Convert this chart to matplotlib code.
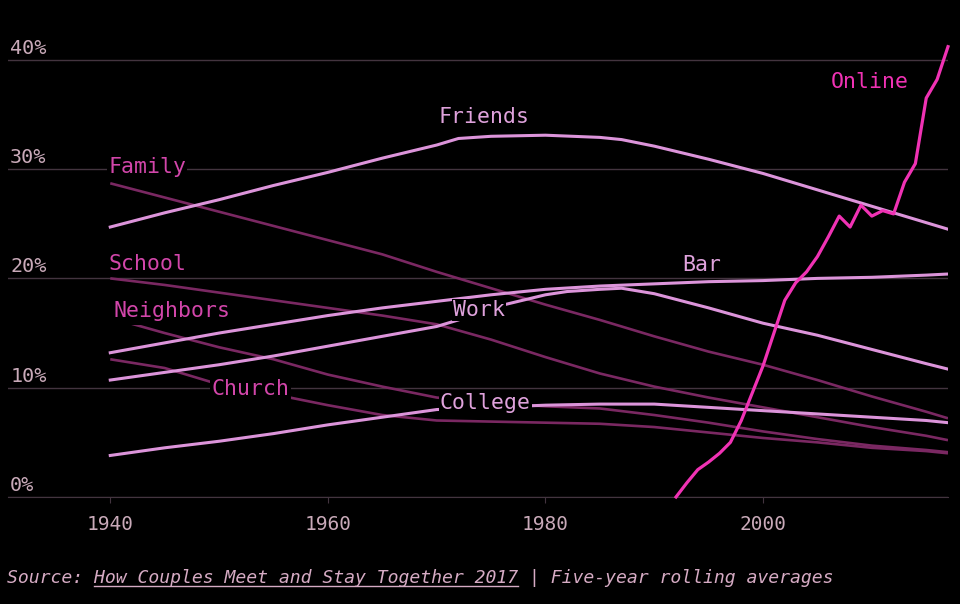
import matplotlib.pyplot as plt
from matplotlib.lines import Line2D

# how couples met, share of couples (%), five-year rolling averages
friends_years = [1940, 1945, 1950, 1955, 1960, 1965, 1970, 1972, 1975, 1980, 1985, 1987, 1990, 1995, 2000, 2005, 2010, 2015, 2017]
friends = [24.7, 26.0, 27.2, 28.5, 29.7, 31.0, 32.2, 32.8, 33.0, 33.1, 32.9, 32.7, 32.1, 30.9, 29.6, 28.1, 26.6, 25.1, 24.5]

work_years = [1940, 1945, 1950, 1955, 1960, 1965, 1970, 1972, 1975, 1980, 1982, 1985, 1987, 1990, 1995, 2000, 2005, 2010, 2015, 2017]
work = [10.7, 11.4, 12.1, 12.9, 13.8, 14.7, 15.6, 16.2, 17.3, 18.5, 18.8, 19.0, 19.1, 18.6, 17.3, 15.9, 14.8, 13.5, 12.2, 11.7]

years = [1940, 1945, 1950, 1955, 1960, 1965, 1970, 1975, 1980, 1985, 1990, 1995, 2000, 2005, 2010, 2015, 2017]
bar = [13.2, 14.1, 15.0, 15.8, 16.6, 17.3, 17.9, 18.5, 19.0, 19.3, 19.5, 19.7, 19.8, 20.0, 20.1, 20.3, 20.4]
college = [3.8, 4.5, 5.1, 5.8, 6.6, 7.3, 8.0, 8.2, 8.4, 8.5, 8.5, 8.2, 7.9, 7.6, 7.3, 7.0, 6.8]
family = [28.7, 27.4, 26.1, 24.8, 23.5, 22.2, 20.6, 19.1, 17.6, 16.2, 14.7, 13.3, 12.1, 10.7, 9.2, 7.8, 7.2]
school = [20.0, 19.4, 18.7, 18.0, 17.3, 16.6, 15.8, 14.4, 12.8, 11.3, 10.1, 9.1, 8.2, 7.3, 6.4, 5.6, 5.2]
neighbors = [16.4, 15.0, 13.7, 12.6, 11.2, 10.1, 9.1, 8.6, 8.3, 8.1, 7.5, 6.8, 6.0, 5.3, 4.7, 4.3, 4.1]
church = [12.6, 11.8, 10.3, 9.4, 8.4, 7.5, 7.0, 6.9, 6.8, 6.7, 6.4, 5.9, 5.4, 5.0, 4.5, 4.2, 4.0]

online_years = list(range(1992, 2018))
online = [0.0, 1.3, 2.5, 3.2, 4.0, 5.0, 7.0, 9.5, 12.0, 15.0, 18.0, 19.6, 20.6, 22.0, 23.8, 25.7,
          24.7, 26.7, 25.7, 26.2, 25.9, 28.8, 30.5, 36.5, 38.2, 41.2]

y_ticks = [0, 10, 20, 30, 40]
x_ticks = [1940, 1960, 1980, 2000]

LIGHT = "#dc94da"
DARK = "#7a2862"
ONLINE = "#f032b4"
LIGHT_TXT = "#dfa2dc"
DARK_TXT = "#d246aa"
TICK_TXT = "#c9aab9"
GRID = "#43343f"
MONO = "DejaVu Sans Mono"

fig = plt.figure(figsize=(9.6, 6.04), dpi=100, facecolor="black")
ax = fig.add_axes([8 / 960, 107 / 604, 940 / 960, 470 / 604])
ax.set_facecolor("black")
ax.set_xlim(1930.6, 2017)
ax.set_ylim(0, 43)

for v in y_ticks:
    ax.axhline(v, color=GRID, lw=1, zorder=0)
    ax.text(1930.8, v + 0.55, f"{v}%", color=TICK_TXT, fontsize=14.5,
            family=MONO, va="baseline", ha="left")

# dark group first, light ones on top
for ys in (family, school, neighbors, church):
    ax.plot(years, ys, color=DARK, lw=1.9, zorder=2, solid_capstyle="butt")
ax.plot(friends_years, friends, color=LIGHT, lw=2.2, zorder=3)
ax.plot(work_years, work, color=LIGHT, lw=2.2, zorder=3)
ax.plot(years, bar, color=LIGHT, lw=2.2, zorder=3)
ax.plot(years, college, color=LIGHT, lw=2.2, zorder=3)
ax.plot(online_years, online, color=ONLINE, lw=2.3, zorder=4, clip_on=False)

labels = [
    ("Family", 1939.8, 30.2, DARK_TXT, 1.0),
    ("School", 1939.8, 21.3, DARK_TXT, 1.0),
    ("Neighbors", 1940.3, 17.0, DARK_TXT, 3.0),
    ("Church", 1949.3, 9.9, DARK_TXT, 1.0),
    ("Friends", 1970.2, 34.8, LIGHT_TXT, 1.0),
    ("Work", 1971.5, 17.1, LIGHT_TXT, 1.0),
    ("College", 1970.3, 8.6, LIGHT_TXT, 1.0),
    ("Bar", 1992.6, 21.2, LIGHT_TXT, 1.0),
    ("Online", 2006.2, 38.0, ONLINE, 1.0),
]
for name, x, y, c, pad in labels:
    ax.text(x, y, name, color=c, fontsize=15.5, family=MONO, va="center",
            ha="left", zorder=5,
            bbox=dict(facecolor="black", edgecolor="none", pad=pad))

for side in ("top", "right", "left"):
    ax.spines[side].set_visible(False)
ax.spines["bottom"].set_color(GRID)
ax.set_yticks([])
ax.set_xticks(x_ticks)
ax.set_xticklabels([str(x) for x in x_ticks], family=MONO, fontsize=14)
ax.tick_params(axis="x", colors=GRID, labelcolor=TICK_TXT, length=4, pad=9)

src_pre = "Source: "
src_link = "How Couples Meet and Stay Together 2017"
src = src_pre + src_link + " | Five-year rolling averages"
t = fig.text(7 / 960, 26 / 604, src, color="#d6abc4", fontsize=13.05,
             family=MONO, style="italic", va="center", ha="left")

# underline the report title
fig.canvas.draw()
bb = t.get_window_extent()
cw = bb.width / len(src)
x0 = (bb.x0 + cw * len(src_pre)) / 960
x1 = (bb.x0 + cw * (len(src_pre) + len(src_link))) / 960
fig.add_artist(Line2D([x0, x1], [(bb.y0 + 1) / 604] * 2, color="#d6abc4", lw=1))

fig.savefig("out.png", dpi=100, facecolor="black")
